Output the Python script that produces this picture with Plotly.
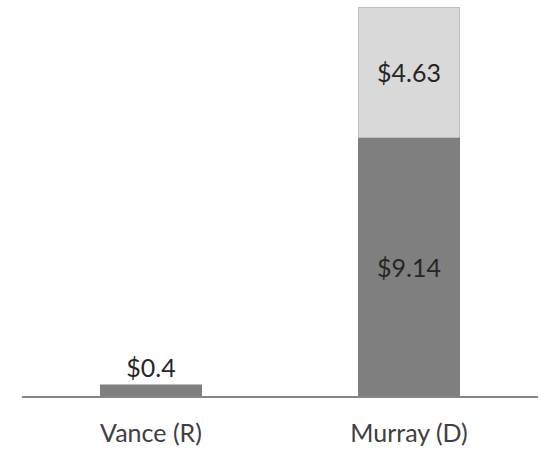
import plotly.graph_objects as go

# candidates and contributions (millions)
candidates = ["Vance (R)", "Murray (D)"]
dark_values = [0.4, 9.14]
light_values = [0, 4.63]

dark_labels = ["$" + str(v) for v in dark_values]
light_labels = ["$" + str(v) if v else "" for v in light_values]

FONT = "Lato, 'Open Sans', sans-serif"

fig = go.Figure()
fig.add_trace(go.Bar(
    x=candidates, y=dark_values, text=dark_labels,
    textposition=["outside", "inside"], insidetextanchor="middle",
    marker=dict(color="#7f7f7f", line=dict(color="#7f7f7f", width=0)),
    textfont=dict(family=FONT, size=25, color="#262626"),
    cliponaxis=False, hoverinfo="skip",
))
fig.add_trace(go.Bar(
    x=candidates, y=light_values, text=light_labels,
    textposition="inside", insidetextanchor="middle",
    marker=dict(color="#d9d9d9", line=dict(color="#bfbfbf", width=1)),
    textfont=dict(family=FONT, size=25, color="#262626"),
    cliponaxis=False, hoverinfo="skip",
))

fig.update_layout(
    barmode="stack",
    bargap=0.605,
    width=545, height=449,
    margin=dict(l=22, r=7, t=7, b=53, autoexpand=False),
    plot_bgcolor="white", paper_bgcolor="white",
    showlegend=False,
    font=dict(family=FONT, color="#404040"),
)
fig.update_xaxes(
    showline=True, linecolor="#868686", linewidth=2,
    ticks="", tickfont=dict(family=FONT, size=25, color="#404040"),
    ticklabelstandoff=14, automargin=False,
)
fig.update_yaxes(visible=False, range=[0, 13.77], showgrid=False, automargin=False)

# drop the default body margin so the figure sits at the page corner
fig.write_html("out.html", config={"displayModeBar": False},
               post_script="document.body.style.margin='0';")
